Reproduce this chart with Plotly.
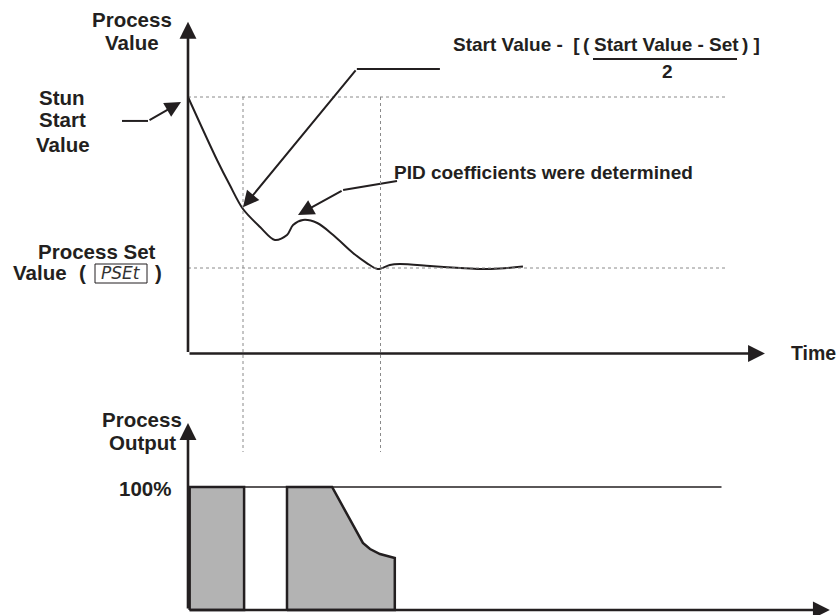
import plotly.graph_objects as go

# ---- data -------------------------------------------------------------
# Process value response during auto-tune (time in s, value in units)
time_s = [0, 5.3, 7.6, 10, 13.1, 15.8, 18.0, 19.1, 20.9, 23.5, 26.4,
          30.0, 32.5, 34.5, 36.7, 38.5, 44, 49.5, 53.1, 56.7, 60.9]
process_value = [150, 113, 98.5, 84.5, 74, 66.4, 69.3, 75.1, 78.1, 76.3, 69.3,
                 58.8, 52.9, 49.4, 51.8, 52.3, 51.2, 50.0, 49.4, 49.7, 50.9]

START_VALUE = 150
SET_VALUE = 50
tune_marks_s = [10, 35]

# Process output phases (percent)
out1_t = [0.3, 0.3, 10.2, 10.2, 0.3]
out1_pct = [0, 100, 100, 0, 0]
out2_t = [18, 18, 26.2, 31.8, 33.1, 34.9, 37.6, 37.6, 18]
out2_pct = [0, 100, 100, 54.5, 49.6, 45.5, 42.3, 0, 0]
FULL_OUTPUT = 100

# ---- canvas / scales --------------------------------------------------
W, H = 840, 615
X_ORIGIN_PX, X_PX_PER_S = 188, 5.5
PV_ZERO_PX, PV_PX_PER_UNIT = 353.5, 1.71
OUT_ZERO_PX, OUT_PX_PER_PCT = 610, 1.23

x_range = [-X_ORIGIN_PX / X_PX_PER_S, (W - X_ORIGIN_PX) / X_PX_PER_S]
y_range = [(PV_ZERO_PX - H) / PV_PX_PER_UNIT, PV_ZERO_PX / PV_PX_PER_UNIT]
y2_range = [(OUT_ZERO_PX - H) / OUT_PX_PER_PCT, OUT_ZERO_PX / OUT_PX_PER_PCT]

INK = "#231f20"
FILL = "#b3b3b3"
DOT = "#8a8a8a"
FONT = "Liberation Sans, Arial, sans-serif"
FS = 20.5      # axis / side labels
FS_NOTE = 19   # annotations inside the chart

fig = go.Figure()

# process value curve
fig.add_trace(go.Scatter(x=time_s, y=process_value, mode="lines",
                         line=dict(color=INK, width=2, shape="spline", smoothing=0.9),
                         hoverinfo="skip"))

# output blocks
for tt, pp in ((out1_t, out1_pct), (out2_t, out2_pct)):
    fig.add_trace(go.Scatter(x=tt, y=pp, yaxis="y2", mode="lines", fill="toself",
                             fillcolor=FILL, line=dict(color=INK, width=2.5),
                             hoverinfo="skip"))

# leader segments (label -> bend)
leaders = [
    ([45.8, 30.7], [166.4, 166.4]),
    ([38.0, 28.2], [100.9, 95.6]),
    ([-12.0, -7.27], [136.0, 136.0]),
]
for lx, ly in leaders:
    fig.add_trace(go.Scatter(x=lx, y=ly, mode="lines",
                             line=dict(color=INK, width=2), hoverinfo="skip"))


def arrow(tip_x, tip_y, tail_x, tail_y, yref="y", width=2.0, size=1.6):
    fig.add_annotation(x=tip_x, y=tip_y, ax=tail_x, ay=tail_y,
                       xref="x", yref=yref, axref="x", ayref=yref,
                       text="", showarrow=True, arrowhead=2,
                       arrowsize=size, arrowwidth=width, arrowcolor=INK,
                       standoff=0, startstandoff=0)


# leader arrowheads (bend -> tip)
arrow(time_s[3], process_value[3] + 1, 30.7, 166.4)
arrow(20.0, 81.0, 28.2, 95.6)
arrow(-1.27, 147.1, -7.27, 136.0)

# axes
arrow(0, 194, 0, 0, width=2.6, size=1.3)
arrow(104.9, 0, 0, 0, width=2.6, size=1.3)
arrow(0, 152, 0, 0, yref="y2", width=2.6, size=1.3)
arrow(116.7, 0, 0, 0, yref="y2", width=2.6, size=1.3)

# reference lines
shapes = [
    dict(type="line", xref="x", yref="y", x0=0, x1=98, y0=START_VALUE, y1=START_VALUE,
         line=dict(color=DOT, width=1, dash="dot")),
    dict(type="line", xref="x", yref="y", x0=0, x1=98, y0=SET_VALUE, y1=SET_VALUE,
         line=dict(color=DOT, width=1, dash="dot")),
    dict(type="line", xref="x", yref="y2", x0=0, x1=97, y0=FULL_OUTPUT, y1=FULL_OUTPUT,
         line=dict(color=INK, width=1.3)),
]
for tm in tune_marks_s:
    shapes.append(dict(type="line", xref="x", yref="y", x0=tm, x1=tm,
                       y0=START_VALUE, y1=(PV_ZERO_PX - 452) / PV_PX_PER_UNIT,
                       line=dict(color=DOT, width=1, dash="dot")))

# fraction bar and display box
shapes.append(dict(type="line", xref="paper", yref="paper",
                   x0=593 / W, x1=737 / W, y0=1 - 59 / H, y1=1 - 59 / H,
                   line=dict(color=INK, width=2)))
shapes.append(dict(type="rect", xref="paper", yref="paper",
                   x0=95 / W, x1=147 / W, y0=1 - 283 / H, y1=1 - 264 / H,
                   line=dict(color=INK, width=1)))


def label(text, px, py, anchor="center", size=FS, weight="bold", style="normal",
          family=FONT, color=INK):
    fig.add_annotation(text=text, x=px / W, y=1 - py / H, xref="paper", yref="paper",
                       xanchor=anchor, yanchor="middle", showarrow=False,
                       font=dict(family=family, size=size, color=color,
                                 weight=weight, style=style))


label("Process", 132, 20)
label("Value", 132, 42)
label("Stun", 62, 97)
label("Start", 62, 120)
label("Value", 63, 144)
label("Process Set", 96.5, 251)
label("Value", 40, 273)
label("(", 82, 273)
label(")", 158, 273)
label("PSEt", 121, 273, size=17, weight="normal", style="italic",
      family="DejaVu Sans, sans-serif", color="#333333")
label("PID coefficients were determined", 392, 172, anchor="left", size=FS_NOTE)
label("Start Value -  [", 451, 45, anchor="left", size=FS_NOTE)
label("(", 586, 45, size=FS_NOTE)
label("Start Value - Set", 666, 45, size=FS_NOTE)
label(") ]", 740, 45, anchor="left", size=FS_NOTE)
label("2", 667, 71, size=FS_NOTE)
label("Time", 789, 353, anchor="left", size=19.5)
label("Process", 142, 419)
label("Output", 142, 442)
label("100%", 173, 488, anchor="right")

fig.update_layout(
    width=W, height=H, margin=dict(l=0, r=0, t=0, b=0),
    paper_bgcolor="white", plot_bgcolor="white", showlegend=False,
    shapes=shapes,
    xaxis=dict(range=x_range, visible=False, fixedrange=True),
    yaxis=dict(range=y_range, visible=False, fixedrange=True),
    yaxis2=dict(range=y2_range, visible=False, fixedrange=True,
                overlaying="y", anchor="x"),
)

fig.write_html("out.html")
